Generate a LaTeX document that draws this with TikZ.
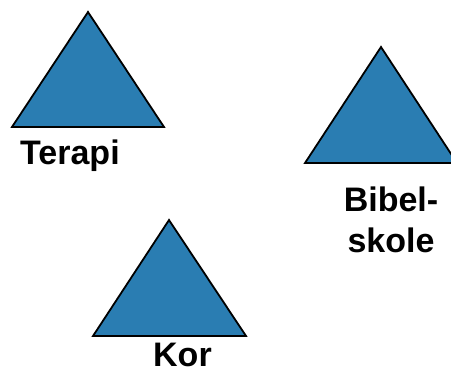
\documentclass[tikz,border=0pt]{standalone}
\usepackage{fontspec}
\setmainfont{Liberation Sans}
\definecolor{triblue}{RGB}{42,125,178}
\begin{document}
\begin{tikzpicture}[x=1pt,y=-1pt,
  tri/.style={fill=triblue,draw=black,line width=1.8pt,line join=miter},
  lbl/.style={font=\fontsize{34}{41}\selectfont\bfseries,inner sep=0pt,text=black,text depth=0pt}]
\useasboundingbox (0,0) rectangle (451,374);
\begin{scope}
\clip (0,0) rectangle (451,374);
\draw[tri] (88,12) -- (164,127) -- (12,127) -- cycle;
\draw[tri] (381,47) -- (457,163) -- (305,163) -- cycle;
\draw[tri] (169,220) -- (246,336) -- (93,336) -- cycle;
\end{scope}
\node[lbl,anchor=base west] (terapi) at (20,165) {Terapi};
\node[lbl,anchor=base west] (kor) at (153,367) {Kor};
\node[lbl,anchor=base,align=center] (bibel) at (391,253) {Bibel-\\skole};
\end{tikzpicture}
\end{document}
